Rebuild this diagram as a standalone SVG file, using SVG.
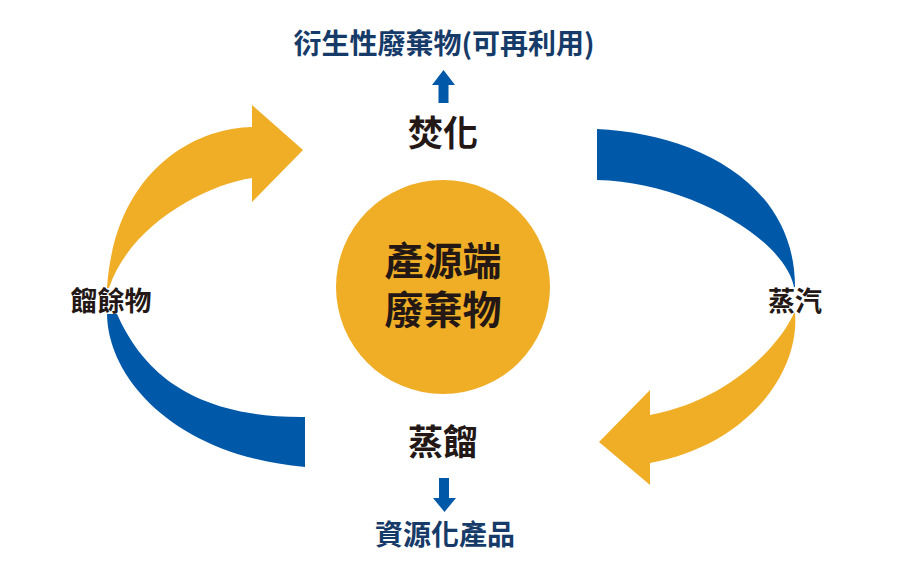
<svg xmlns="http://www.w3.org/2000/svg" width="899" height="582" viewBox="0 0 899 582">
<style>
.y{fill:#f0ad26}
.b{fill:#0058a8}
.t{font-family:"Noto Sans CJK TC","Noto Sans CJK SC",sans-serif;font-weight:700;text-anchor:middle}
.dk{fill:#231815}
.nv{fill:#173b69}
</style>
<rect width="899" height="582" fill="#ffffff"/>
<g id="connectors">
<path id="arc-left-top" class="y" d="M252,127 L252,105 L303,150 L252,202 L252,178 C205,185 130,225 109,288 L107,288 C115,170 195,128 252,127 Z"/>
<path id="arc-left-bottom" class="b" d="M107,314 C108,380 177,456 305,467 L305,417 C185,418 140,365 117,314 Z"/>
<path id="arc-right-top" class="b" d="M597,129 C690,133 795,180 795,287 L794,287 C785,240 690,182 597,180 Z"/>
<path id="arc-right-bottom" class="y" d="M795,313 C800,370 750,445 650,463 L650,485 L599,442 L650,390 L650,415 C730,400 780,345 794,313 Z"/>
<path id="arrow-up" class="b" d="M443.5,70 L455,85 L448.5,85 L448.5,103 L438.5,103 L438.5,85 L432,85 Z"/>
<path id="arrow-down" class="b" d="M439,478 L449,478 L449,498 L456,498 L444.5,512 L433,498 L439,498 Z"/>
</g>
<g id="node-source">
<circle cx="443" cy="287" r="107" class="y"/>
<text class="t dk" font-size="39"><tspan x="443" y="275">產源端</tspan><tspan x="443" y="324">廢棄物</tspan></text>
</g>
<g id="node-incineration">
<text class="t dk" x="443" y="146" font-size="35">焚化</text>
</g>
<g id="node-byproduct">
<text class="t nv" x="444" y="54" font-size="28">衍生性廢棄物(可再利用)</text>
</g>
<g id="node-distillation">
<text class="t dk" x="443" y="455" font-size="35">蒸餾</text>
</g>
<g id="node-product">
<text class="t nv" x="445" y="545" font-size="28">資源化產品</text>
</g>
<g id="node-residue">
<text class="t dk" x="111" y="311" font-size="27">餾餘物</text>
</g>
<g id="node-steam">
<text class="t dk" x="795" y="311" font-size="27">蒸汽</text>
</g>
</svg>
